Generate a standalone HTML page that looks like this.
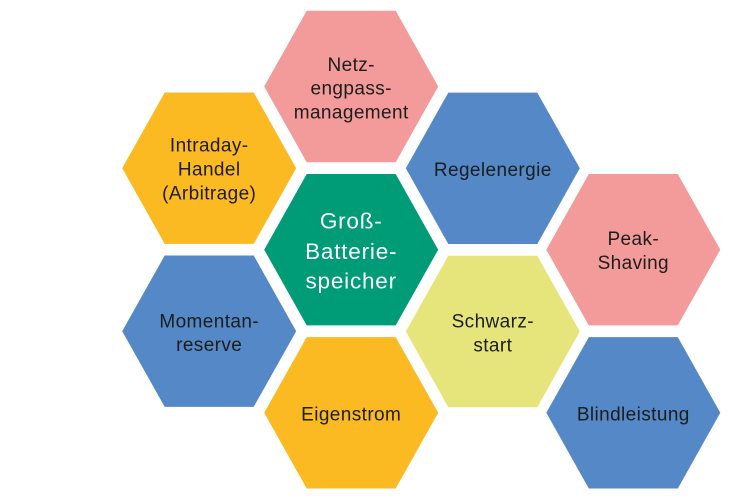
<!DOCTYPE html>
<html>
<head>
<meta charset="utf-8">
<style>
  html,body{margin:0;padding:0;background:#fff;}
  svg{display:block;}
  text{font-family:"Liberation Sans",sans-serif;font-size:19px;letter-spacing:0.4px;fill:#1d1d1b;text-anchor:middle;}
  .w{fill:#fff;font-size:22.5px;letter-spacing:0.8px;}
</style>
</head>
<body>
<svg width="731" height="500" viewBox="0 0 731 500" xmlns="http://www.w3.org/2000/svg">
  <defs>
    <polygon id="hx" points="-87,0 -44.5,-75.7 44.5,-75.7 87,0 44.5,75.7 -44.5,75.7"/>
  </defs>
  <use href="#hx" x="351.2" y="86.5" fill="#F29B9A"/>
  <use href="#hx" x="209.2" y="168.2" fill="#FBBA22"/>
  <use href="#hx" x="492.8" y="168.3" fill="#5488C7"/>
  <use href="#hx" x="351.2" y="249.7" fill="#009B77"/>
  <use href="#hx" x="633.3" y="249.7" fill="#F29B9A"/>
  <use href="#hx" x="209.2" y="331.2" fill="#5488C7"/>
  <use href="#hx" x="492.8" y="331.5" fill="#E6E57B"/>
  <use href="#hx" x="351.2" y="412.8" fill="#FBBA22"/>
  <use href="#hx" x="633.3" y="412.8" fill="#5488C7"/>

  <text x="351.2" y="71">Netz-</text>
  <text x="351.2" y="94.7">engpass-</text>
  <text x="351.2" y="118.3">management</text>

  <text x="209.2" y="151.7">Intraday-</text>
  <text x="209.2" y="175.7">Handel</text>
  <text x="209.2" y="199.3">(Arbitrage)</text>

  <text x="492.8" y="175.8">Regelenergie</text>

  <text class="w" x="351.2" y="228.3">Groß-</text>
  <text class="w" x="351.2" y="259">Batterie-</text>
  <text class="w" x="351.2" y="288.3">speicher</text>

  <text x="633.3" y="245">Peak-</text>
  <text x="633.3" y="269">Shaving</text>

  <text x="209.2" y="327.3">Momentan-</text>
  <text x="209.2" y="351">reserve</text>

  <text x="492.8" y="327.5">Schwarz-</text>
  <text x="492.8" y="351.5">start</text>

  <text x="351.2" y="420.7">Eigenstrom</text>

  <text x="633.3" y="420.7">Blindleistung</text>
</svg>
</body>
</html>
